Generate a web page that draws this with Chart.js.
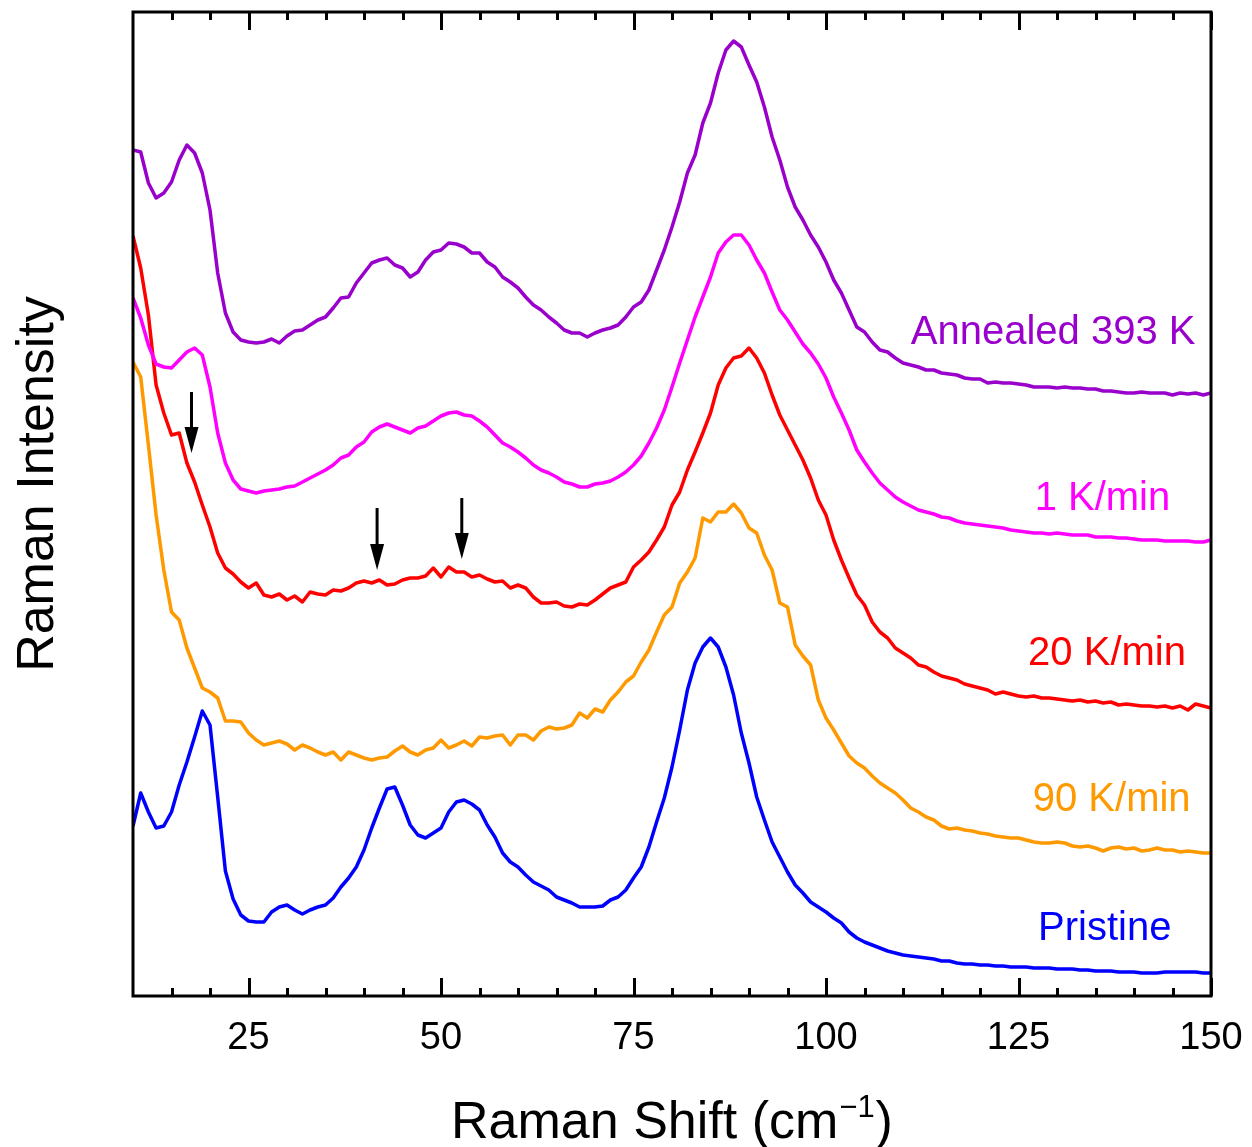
<!DOCTYPE html>
<html>
<head>
<meta charset="utf-8">
<title>Raman spectra</title>
<script src="https://cdn.jsdelivr.net/npm/chart.js@4/dist/chart.umd.min.js"></script>
<style>
  html, body { margin: 0; padding: 0; background: #ffffff; }
  #wrap { width: 1252px; height: 1147px; position: relative; }
</style>
</head>
<body>
<div id="wrap"><canvas id="raman" width="1252" height="1147"></canvas></div>
<script>
// Raman shift axis (cm^-1)
const ramanShift = [
  10, 11, 12, 13, 14, 15, 16, 17, 18, 19,
  20, 21, 22, 23, 24, 25, 26, 27, 28, 29,
  30, 31, 32, 33, 34, 35, 36, 37, 38, 39,
  40, 41, 42, 43, 44, 45, 46, 47, 48, 49,
  50, 51, 52, 53, 54, 55, 56, 57, 58, 59,
  60, 61, 62, 63, 64, 65, 66, 67, 68, 69,
  70, 71, 72, 73, 74, 75, 76, 77, 78, 79,
  80, 81, 82, 83, 84, 85, 86, 87, 88, 89,
  90, 91, 92, 93, 94, 95, 96, 97, 98, 99,
  100, 101, 102, 103, 104, 105, 106, 107, 108, 109,
  110, 111, 112, 113, 114, 115, 116, 117, 118, 119,
  120, 121, 122, 123, 124, 125, 126, 127, 128, 129,
  130, 131, 132, 133, 134, 135, 136, 137, 138, 139,
  140, 141, 142, 143, 144, 145, 146, 147, 148, 149, 150
];

// Intensities (arbitrary units, spectra offset vertically)
const annealed393K = [
  846, 844, 813, 798, 803, 814, 836, 851, 843, 823,
  786, 723, 683, 664, 656, 654, 653, 654, 657, 653,
  660, 665, 666, 671, 676, 679, 688, 698, 699, 713,
  723, 733, 736, 738, 731, 728, 719, 724, 736, 744,
  746, 753, 752, 749, 743, 743, 734, 729, 719, 714,
  708, 699, 691, 686, 679, 673, 666, 663, 663, 659,
  663, 666, 668, 671, 679, 689, 694, 706, 726, 746,
  769, 794, 823, 841, 873, 893, 923, 946, 955, 949,
  931, 914, 889, 859, 836, 809, 789, 776, 761, 749,
  734, 716, 703, 686, 669, 664, 654, 646, 644, 638,
  633, 631, 629, 626, 626, 623, 622, 621, 618, 617,
  617, 613, 614, 613, 613, 612, 611, 609, 609, 609,
  608, 609, 608, 608, 607, 607, 605, 605, 604, 603,
  603, 604, 603, 603, 603, 601, 603, 602, 603, 601, 603
];

const rate1Kmin = [
  698, 678, 651, 632, 629, 628, 636, 644, 648, 641,
  609, 563, 533, 516, 507, 505, 503, 505, 506, 507,
  509, 510, 514, 518, 522, 526, 531, 538, 541, 549,
  554, 564, 569, 572, 569, 566, 563, 568, 570, 575,
  580, 583, 584, 581, 580, 575, 569, 561, 553, 549,
  544, 538, 531, 526, 523, 519, 514, 512, 509, 509,
  512, 513, 515, 519, 524, 531, 540, 553, 568, 586,
  609, 633, 656, 679, 699, 719, 743, 754, 761, 761,
  751, 736, 723, 704, 686, 676, 664, 652, 643, 632,
  618, 599, 583, 566, 546, 534, 523, 513, 506, 499,
  494, 490, 486, 484, 482, 479, 478, 475, 473, 472,
  471, 470, 469, 468, 466, 465, 464, 463, 463, 462,
  463, 462, 461, 461, 461, 459, 459, 459, 458, 458,
  457, 456, 456, 456, 455, 455, 455, 455, 454, 454, 456
];

const rate20Kmin = [
  760, 728, 681, 611, 583, 561, 563, 533, 514, 491,
  469, 443, 428, 422, 414, 408, 413, 401, 399, 402,
  396, 400, 394, 404, 402, 401, 406, 405, 408, 413,
  415, 413, 416, 411, 412, 416, 418, 418, 420, 428,
  419, 429, 424, 424, 419, 421, 417, 414, 415, 408,
  411, 408, 399, 393, 393, 394, 390, 389, 392, 391,
  396, 402, 408, 411, 414, 429, 436, 444, 456, 469,
  491, 504, 526, 544, 563, 583, 611, 628, 638, 640,
  648, 638, 623, 601, 581, 566, 551, 536, 518, 496,
  481, 456, 436, 418, 401, 391, 374, 364, 358, 348,
  343, 338, 331, 329, 324, 320, 318, 316, 312, 310,
  308, 306, 302, 304, 302, 300, 299, 300, 298, 298,
  297, 296, 295, 296, 294, 295, 293, 294, 291, 292,
  291, 290, 290, 289, 290, 288, 290, 286, 292, 290, 288
];

const rate90Kmin = [
  634, 619, 551, 481, 426, 384, 376, 348, 328, 308,
  304, 298, 275, 275, 274, 263, 256, 251, 253, 255,
  252, 246, 251, 248, 244, 241, 244, 236, 244, 241,
  238, 236, 238, 239, 245, 250, 244, 241, 246, 248,
  256, 248, 251, 255, 250, 259, 258, 260, 261, 251,
  261, 261, 256, 265, 269, 267, 268, 271, 283, 278,
  287, 284, 296, 304, 314, 320, 334, 346, 364, 381,
  389, 413, 424, 438, 478, 474, 484, 484, 492, 483,
  468, 463, 441, 426, 393, 389, 351, 340, 331, 296,
  278, 266, 253, 240, 233, 228, 220, 213, 208, 203,
  196, 188, 184, 179, 176, 170, 167, 168, 166, 165,
  163, 162, 160, 159, 158, 158, 156, 154, 153, 153,
  154, 153, 150, 149, 150, 148, 145, 148, 149, 147,
  148, 145, 146, 148, 146, 146, 144, 145, 144, 143, 143
];

const pristine = [
  170, 203, 184, 168, 170, 184, 211, 234, 259, 285,
  271, 199, 125, 97, 81, 75, 74, 74, 84, 89,
  91, 86, 82, 86, 89, 91, 98, 109, 118, 129,
  146, 168, 188, 207, 209, 191, 171, 161, 158, 163,
  168, 184, 194, 196, 192, 186, 171, 159, 143, 134,
  129, 121, 114, 110, 106, 99, 96, 93, 89, 89,
  89, 90, 96, 99, 106, 118, 129, 149, 174, 198,
  229, 266, 306, 333, 349, 358, 349, 329, 301, 263,
  233, 199, 176, 154, 139, 124, 111, 103, 94, 89,
  84, 78, 73, 64, 58, 54, 51, 48, 45, 43,
  41, 40, 39, 38, 37, 35, 35, 33, 32, 32,
  31, 31, 30, 30, 29, 29, 29, 28, 28, 28,
  27, 27, 27, 26, 26, 25, 25, 25, 24, 24,
  24, 23, 23, 23, 24, 24, 24, 24, 24, 23, 23
];

const seriesNames = ['Annealed 393 K', '1 K/min', '20 K/min', '90 K/min', 'Pristine'];
const seriesValues = [annealed393K, rate1Kmin, rate20Kmin, rate90Kmin, pristine];
const seriesColors = ['#9900CC', '#FF00FF', '#FF0000', '#FF9900', '#0000FF'];

// Where each spectrum's name sits (shift, intensity)
const nameShift = [129.5, 135.9, 136.5, 137.1, 136.2];
const nameIntensity = [663, 497, 342, 196, 67];

// Marker arrows: shift, tail intensity, tip intensity
const arrowShift = [17.6, 41.7, 52.7];
const arrowTail = [604, 488, 498];
const arrowTip = [543, 426, 437];

// Axis ticks
const xMajorTicks = [25, 50, 75, 100, 125, 150];
const xMinorTicks = [15, 20, 30, 35, 40, 45, 55, 60, 65, 70, 80, 85, 90, 95,
                     105, 110, 115, 120, 130, 135, 140, 145];

const FONT = '"Liberation Sans", Arial, Helvetica, sans-serif';

const datasets = seriesValues.map((vals, i) => ({
  label: seriesNames[i],
  data: ramanShift.map((s, k) => ({ x: s, y: vals[k] })),
  borderColor: seriesColors[i],
  backgroundColor: seriesColors[i],
  borderWidth: 3.5,
  pointRadius: 0,
  tension: 0,
  fill: false,
  borderJoinStyle: 'round'
}));

// Frame with inward ticks on the top and bottom edges
const frameTicks = {
  id: 'frameTicks',
  afterDatasetsDraw(chart) {
    const { ctx, chartArea: a, scales: { x } } = chart;
    ctx.save();
    ctx.strokeStyle = '#000';
    ctx.lineWidth = 3;
    ctx.lineCap = 'butt';
    ctx.beginPath();
    const tick = (v, len) => {
      const px = Math.round(x.getPixelForValue(v)) + 0.5;
      ctx.moveTo(px, a.bottom);
      ctx.lineTo(px, a.bottom - len);
      ctx.moveTo(px, a.top);
      ctx.lineTo(px, a.top + len);
    };
    xMajorTicks.forEach(v => tick(v, 18));
    xMinorTicks.forEach(v => tick(v, 8));
    ctx.stroke();
    ctx.strokeRect(a.left, a.top, a.right - a.left, a.bottom - a.top);
    ctx.restore();
  }
};

// Downward arrows marking weak bands
const bandArrows = {
  id: 'bandArrows',
  afterDatasetsDraw(chart) {
    const { ctx, scales: { x, y } } = chart;
    ctx.save();
    ctx.strokeStyle = '#000';
    ctx.fillStyle = '#000';
    ctx.lineWidth = 3;
    arrowShift.forEach((s, i) => {
      const px = x.getPixelForValue(s);
      const yTail = y.getPixelForValue(arrowTail[i]);
      const yTip = y.getPixelForValue(arrowTip[i]);
      const head = 26, half = 7;
      ctx.beginPath();
      ctx.moveTo(px, yTail);
      ctx.lineTo(px, yTip - head + 2);
      ctx.stroke();
      ctx.beginPath();
      ctx.moveTo(px - half, yTip - head);
      ctx.lineTo(px + half, yTip - head);
      ctx.lineTo(px, yTip);
      ctx.closePath();
      ctx.fill();
    });
    ctx.restore();
  }
};

// Spectrum names and axis titles
const textLayer = {
  id: 'textLayer',
  afterDraw(chart) {
    const { ctx, chartArea: a, scales: { x, y } } = chart;
    ctx.save();
    ctx.font = '40px ' + FONT;
    ctx.textAlign = 'center';
    ctx.textBaseline = 'middle';
    seriesNames.forEach((name, i) => {
      ctx.fillStyle = seriesColors[i];
      ctx.fillText(name, x.getPixelForValue(nameShift[i]), y.getPixelForValue(nameIntensity[i]));
    });

    // x title with superscript
    ctx.fillStyle = '#000';
    ctx.textAlign = 'left';
    ctx.textBaseline = 'alphabetic';
    const main = 'Raman Shift (cm', sup = '\u22121', close = ')';
    const bigFont = '52px ' + FONT, smallFont = '31px ' + FONT;
    ctx.font = bigFont;
    const w1 = ctx.measureText(main).width;
    const w3 = ctx.measureText(close).width;
    ctx.font = smallFont;
    const w2 = ctx.measureText(sup).width;
    const total = w1 + w2 + w3 + 2;
    let tx = (a.left + a.right) / 2 - total / 2;
    const base = 1138;
    ctx.font = bigFont;
    ctx.fillText(main, tx, base);
    tx += w1 + 1;
    ctx.font = smallFont;
    ctx.fillText(sup, tx, base - 21);
    tx += w2 + 1;
    ctx.font = bigFont;
    ctx.fillText(close, tx, base);

    // y title
    ctx.translate(53, 484);
    ctx.rotate(-Math.PI / 2);
    ctx.textAlign = 'center';
    ctx.font = '52px ' + FONT;
    ctx.fillText('Raman Intensity', 0, 0);
    ctx.restore();
  }
};

new Chart(document.getElementById('raman'), {
  type: 'line',
  data: { datasets },
  options: {
    responsive: false,
    animation: false,
    devicePixelRatio: 1,
    layout: { padding: { left: 133, right: 41, top: 12, bottom: 0 } },
    plugins: { legend: { display: false }, tooltip: { enabled: false } },
    scales: {
      x: {
        type: 'linear',
        min: 10,
        max: 150,
        grid: { display: false, drawTicks: false },
        border: { display: false },
        afterBuildTicks: (scale) => { scale.ticks = xMajorTicks.map(v => ({ value: v })); },
        afterFit: (scale) => {
          scale.height = 151;
          scale.paddingLeft = 0;
          scale.paddingRight = 0;
        },
        ticks: {
          color: '#000',
          font: { family: FONT, size: 38 },
          padding: 20,
          maxRotation: 0,
          autoSkip: false
        }
      },
      y: {
        type: 'linear',
        min: 0,
        max: 984,
        display: false
      }
    }
  },
  plugins: [frameTicks, bandArrows, textLayer]
});
</script>
</body>
</html>
